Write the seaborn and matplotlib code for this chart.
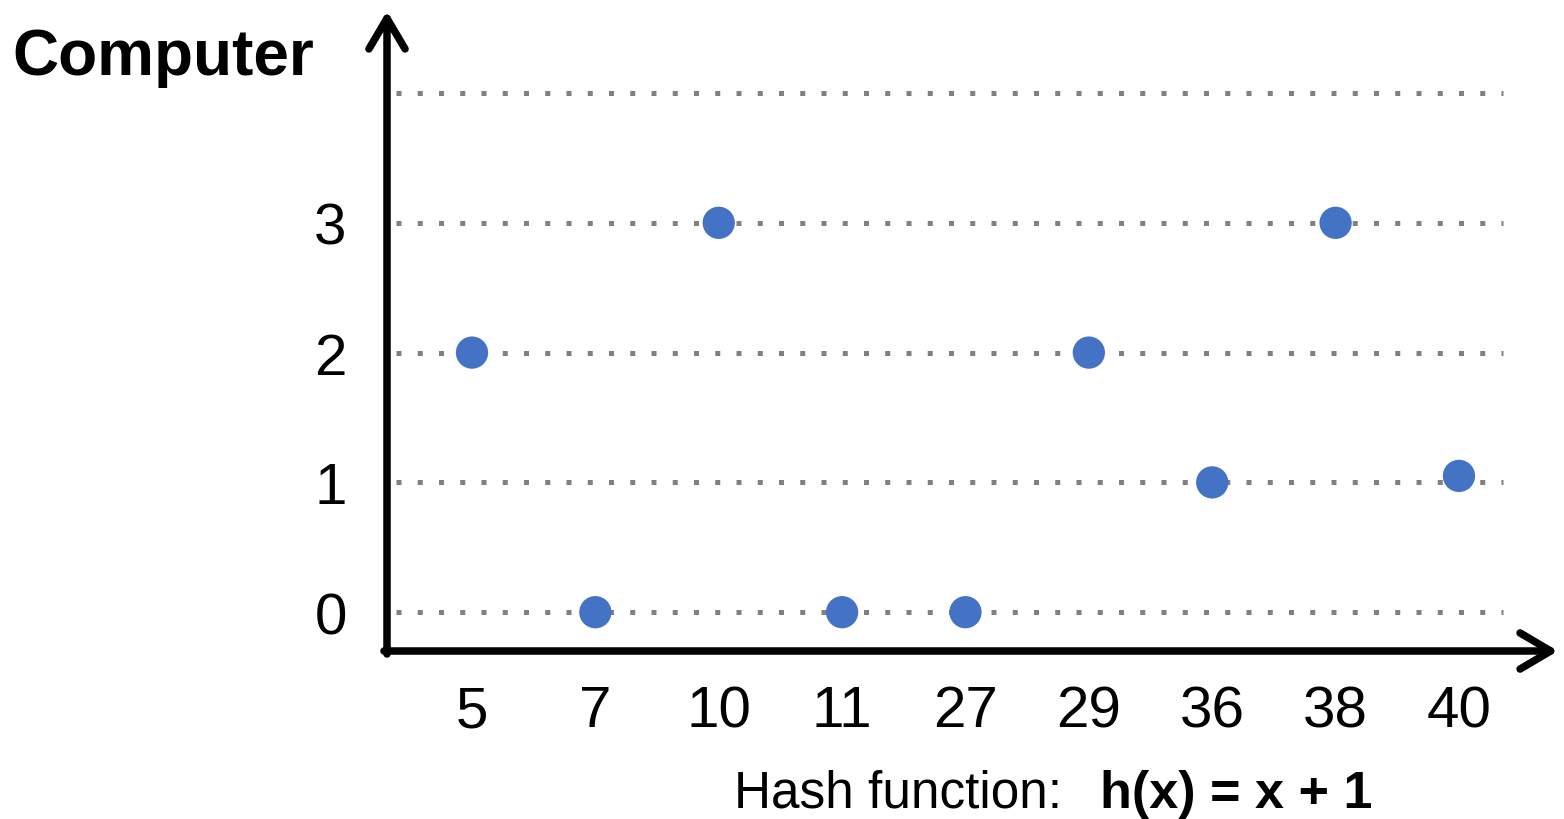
import matplotlib
matplotlib.use("Agg")
import matplotlib.pyplot as plt
import seaborn as sns
import pandas as pd
from matplotlib.patches import FancyArrowPatch

# values
keys = ["5", "7", "10", "11", "27", "29", "36", "38", "40"]
computer = [2, 0, 3, 0, 0, 2, 1, 3, 1.05]
y_ticks = [0, 1, 2, 3]
grid_levels = [0, 1, 2, 3, 4]

df = pd.DataFrame({"key": keys, "computer": computer})

sns.set_style("white")
plt.rcParams["font.family"] = ["Liberation Sans", "DejaVu Sans"]
plt.rcParams["text.color"] = "black"
plt.rcParams["xtick.color"] = "black"
plt.rcParams["ytick.color"] = "black"

W, H = 1564, 820
fig = plt.figure(figsize=(W / 100, H / 100), dpi=100)

# axes box: y axis line at x=387 px, x axis line at y=652 px
left, right, bottom, top = 387, 1560, 652, 12
ax = fig.add_axes([left / W, 1 - bottom / H, (right - left) / W, (bottom - top) / H])

sns.scatterplot(data=df, x="key", y="computer", ax=ax, s=540,
                color="#4472C4", edgecolor="none", zorder=3, legend=False)

ax.hlines(grid_levels, -0.62, 8.36, colors="#808080", linewidth=3.6,
          linestyles=(0, (1, 3.25)), zorder=1)

ax.set_xlim(-0.689, 8.819)
ax.set_ylim(-0.299, 4.632)
ax.set_xticks(range(len(keys)))
ax.set_xticklabels(keys)
ax.set_yticks(y_ticks)
ax.set_yticklabels([str(v) for v in y_ticks])
ax.tick_params(axis="x", length=0, pad=24, labelsize=42)
ax.tick_params(axis="y", length=0, pad=29, labelsize=42)
ax.set_xlabel("")
ax.set_ylabel("")
for s in ax.spines.values():
    s.set_visible(False)
ax.patch.set_alpha(0)

# axis arrows
arrow_kw = dict(arrowstyle="->,head_length=2.2,head_width=1.3", mutation_scale=10,
                lw=5.4, color="black", shrinkA=0, shrinkB=0,
                transform=fig.transFigure, capstyle="round", joinstyle="round")
fig.patches.append(FancyArrowPatch((left / W, 1 - (bottom + 3) / H), (left / W, 1 - 12 / H), **arrow_kw))
fig.patches.append(FancyArrowPatch(((left - 3) / W, 1 - bottom / H), (1558 / W, 1 - bottom / H), **arrow_kw))

fig.text(12 / W, 1 - 58 / H, "Computer", fontsize=46, fontweight="bold",
         ha="left", va="center")
fig.text(1062 / W, 1 - 808 / H, "Hash function:", fontsize=37,
         ha="right", va="baseline")
fig.text(1100 / W, 1 - 808 / H, "h(x) = x + 1", fontsize=37.5, fontweight="bold",
         ha="left", va="baseline")

fig.savefig("out.png", dpi=100)
